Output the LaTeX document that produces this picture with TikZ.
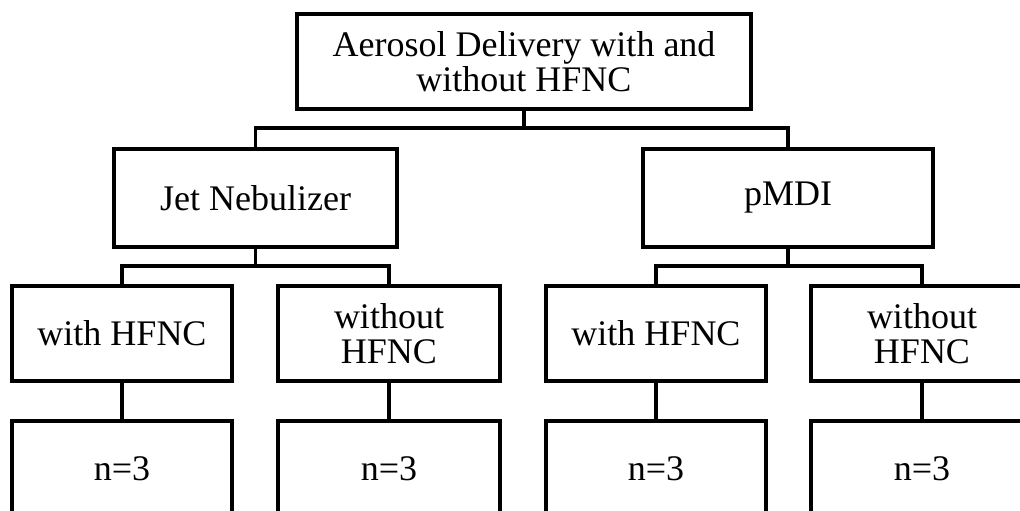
\documentclass[tikz,border=0pt]{standalone}
\usepackage{fontspec}
\setmainfont{Liberation Serif}
\begin{document}
\begin{tikzpicture}[x=1bp,y=-1bp,
  box/.style={draw=black,line width=3.3bp,rectangle,inner sep=0pt,align=center,
    font=\fontsize{36bp}{35bp}\selectfont},
  conn/.style={draw=black,line width=3.1bp}]
\useasboundingbox (0,0) rectangle (1020,511);
\clip (0,0) rectangle (1020,511);
% top
\node[box,minimum width=454bp,minimum height=95bp] (top) at (524,61.5) {Aerosol Delivery with and\\without HFNC};
% second row
\node[box,minimum width=283bp,minimum height=98bp] (jet) at (255.5,198) {Jet Nebulizer};
\node[box,minimum width=290bp,minimum height=98bp] (pmdi) at (788,198) {pMDI};
% third row
\node[box,minimum width=220bp,minimum height=95bp] (wj) at (122,333.5) {with HFNC};
\node[box,minimum width=222bp,minimum height=95bp] (oj) at (389,333.5) {without\\HFNC};
\node[box,minimum width=220bp,minimum height=95bp] (wp) at (656,333.5) {with HFNC};
\node[box,minimum width=222bp,minimum height=95bp] (op) at (922,333.5) {without\\HFNC};
% fourth row
\node[box,minimum width=220bp,minimum height=95bp] (nwj) at (122,468.5) {n=3};
\node[box,minimum width=222bp,minimum height=95bp] (noj) at (389,468.5) {n=3};
\node[box,minimum width=220bp,minimum height=95bp] (nwp) at (656,468.5) {n=3};
\node[box,minimum width=222bp,minimum height=95bp] (nop) at (922,468.5) {n=3};
% connectors
\coordinate (j0) at (524,128);
\draw[conn] (top.south) -- (j0);
\draw[conn] (jet.north) |- (j0) -| (pmdi.north);
\coordinate (j1) at (255.5,266);
\draw[conn] (jet.south) -- (j1);
\draw[conn] (wj.north) |- (j1) -| (oj.north);
\coordinate (j2) at (788,266);
\draw[conn] (pmdi.south) -- (j2);
\draw[conn] (wp.north) |- (j2) -| (op.north);
\draw[conn] (wj.south) -- (nwj.north);
\draw[conn] (oj.south) -- (noj.north);
\draw[conn] (wp.south) -- (nwp.north);
\draw[conn] (op.south) -- (nop.north);
\end{tikzpicture}
\end{document}
